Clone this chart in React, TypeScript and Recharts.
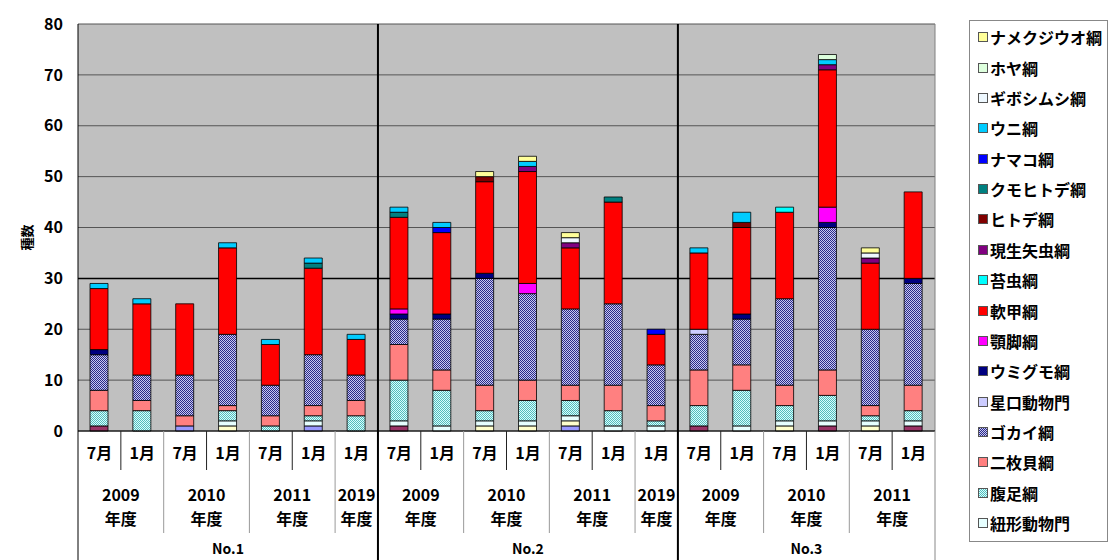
import { BarChart, Bar, XAxis, YAxis, CartesianGrid, ReferenceLine } from 'recharts';

// categories: one entry per bar
const barSite = [
  'No.1', 'No.1', 'No.1', 'No.1', 'No.1', 'No.1', 'No.1',
  'No.2', 'No.2', 'No.2', 'No.2', 'No.2', 'No.2', 'No.2',
  'No.3', 'No.3', 'No.3', 'No.3', 'No.3', 'No.3',
];
const barYear = [
  '2009', '2009', '2010', '2010', '2011', '2011', '2019',
  '2009', '2009', '2010', '2010', '2011', '2011', '2019',
  '2009', '2009', '2010', '2010', '2011', '2011',
];
const barMonth = [
  '7月', '1月', '7月', '1月', '7月', '1月', '1月',
  '7月', '1月', '7月', '1月', '7月', '1月', '1月',
  '7月', '1月', '7月', '1月', '7月', '1月',
];

const yTicks = [0, 10, 20, 30, 40, 50, 60, 70, 80];

// series values, bottom of the stack first
// (the first three are drawn in the bars but not listed in the legend)
const unlistedA = [0, 0, 1, 0, 0, 1, 0, 0, 0, 0, 0, 1, 0, 0, 0, 0, 0, 0, 0, 0];
const unlistedB = [1, 0, 0, 0, 0, 0, 0, 1, 0, 0, 0, 0, 0, 0, 1, 0, 0, 1, 0, 1];
const unlistedC = [0, 0, 0, 1, 0, 0, 0, 0, 0, 1, 1, 1, 0, 0, 0, 0, 1, 0, 1, 0];
const nemertea = [0, 0, 0, 1, 0, 1, 0, 1, 1, 1, 1, 1, 1, 1, 0, 1, 1, 1, 1, 1];
const gastropoda = [3, 4, 0, 2, 1, 1, 3, 8, 7, 2, 4, 3, 3, 1, 4, 7, 3, 5, 1, 2];
const bivalvia = [4, 2, 2, 1, 2, 2, 3, 7, 4, 5, 4, 3, 5, 3, 7, 5, 4, 5, 2, 5];
const polychaeta = [7, 5, 8, 14, 6, 10, 5, 5, 10, 21, 17, 15, 16, 8, 7, 9, 17, 28, 15, 20];
const sipuncula = [0, 0, 0, 0, 0, 0, 0, 0, 0, 0, 0, 0, 0, 0, 1, 0, 0, 0, 0, 0];
const pycnogonida = [1, 0, 0, 0, 0, 0, 0, 1, 1, 1, 0, 0, 0, 0, 0, 1, 0, 1, 0, 1];
const maxillopoda = [0, 0, 0, 0, 0, 0, 0, 1, 0, 0, 2, 0, 0, 0, 0, 0, 0, 3, 0, 0];
const malacostraca = [12, 14, 14, 17, 8, 17, 7, 18, 16, 18, 22, 12, 20, 6, 15, 17, 17, 27, 13, 17];
const bryozoa = [0, 0, 0, 0, 0, 0, 0, 0, 0, 0, 0, 0, 0, 0, 0, 0, 1, 0, 0, 0];
const sagittoidea = [0, 0, 0, 0, 0, 0, 0, 0, 0, 0, 1, 1, 0, 0, 0, 0, 0, 1, 1, 0];
const asteroidea = [0, 0, 0, 0, 0, 0, 0, 0, 0, 1, 0, 0, 0, 0, 0, 1, 0, 0, 0, 0];
const ophiuroidea = [0, 0, 0, 0, 0, 1, 0, 1, 0, 0, 0, 0, 1, 0, 0, 0, 0, 0, 0, 0];
const holothuroidea = [0, 0, 0, 0, 0, 0, 0, 0, 1, 0, 0, 0, 0, 1, 0, 0, 0, 0, 0, 0];
const echinoidea = [1, 1, 0, 1, 1, 1, 1, 1, 1, 0, 1, 0, 0, 0, 1, 2, 0, 1, 0, 0];
const enteropneusta = [0, 0, 0, 0, 0, 0, 0, 0, 0, 0, 0, 1, 0, 0, 0, 0, 0, 0, 1, 0];
const ascidiacea = [0, 0, 0, 0, 0, 0, 0, 0, 0, 0, 0, 0, 0, 0, 0, 0, 0, 1, 0, 0];
const amphioxus = [0, 0, 0, 0, 0, 0, 0, 0, 0, 1, 1, 1, 0, 0, 0, 0, 0, 0, 1, 0];

const series = [
  { key: 'a', name: '', values: unlistedA, fill: '#9999FF', legend: false },
  { key: 'b', name: '', values: unlistedB, fill: '#993366', legend: false },
  { key: 'c', name: '', values: unlistedC, fill: '#FFFFCC', legend: false },
  { key: 'nem', name: '紐形動物門', values: nemertea, fill: '#E6FFFF', legend: true },
  { key: 'gas', name: '腹足綱', values: gastropoda, fill: 'url(#patGas)', legend: true },
  { key: 'biv', name: '二枚貝綱', values: bivalvia, fill: '#FF8080', legend: true },
  { key: 'pol', name: 'ゴカイ綱', values: polychaeta, fill: 'url(#patPol)', legend: true },
  { key: 'sip', name: '星口動物門', values: sipuncula, fill: '#CCCCFF', legend: true },
  { key: 'pyc', name: 'ウミグモ綱', values: pycnogonida, fill: '#000080', legend: true },
  { key: 'max', name: '顎脚綱', values: maxillopoda, fill: '#FF00FF', legend: true },
  { key: 'mal', name: '軟甲綱', values: malacostraca, fill: '#FF0000', legend: true },
  { key: 'bry', name: '苔虫綱', values: bryozoa, fill: '#00FFFF', legend: true },
  { key: 'sag', name: '現生矢虫綱', values: sagittoidea, fill: '#800080', legend: true },
  { key: 'ast', name: 'ヒトデ綱', values: asteroidea, fill: '#800000', legend: true },
  { key: 'oph', name: 'クモヒトデ綱', values: ophiuroidea, fill: '#008080', legend: true },
  { key: 'hol', name: 'ナマコ綱', values: holothuroidea, fill: '#0000FF', legend: true },
  { key: 'ech', name: 'ウニ綱', values: echinoidea, fill: '#00CCFF', legend: true },
  { key: 'ent', name: 'ギボシムシ綱', values: enteropneusta, fill: '#EEF8FF', legend: true },
  { key: 'asc', name: 'ホヤ綱', values: ascidiacea, fill: '#DDFFDD', legend: true },
  { key: 'amp', name: 'ナメクジウオ綱', values: amphioxus, fill: '#FFFF99', legend: true },
];

const catKeys = barSite.map((s, i) => `${s}-${barYear[i]}-${barMonth[i]}`);

const data = catKeys.map((cat, i) => {
  const row: Record<string, string | number> = { cat };
  for (const s of series) row[s.key] = s.values[i];
  return row;
});

const W = 1110;
const H = 560;
const MARGIN = { top: 24, right: 175, bottom: 0, left: 0 };
const Y_AXIS_W = 78;
const X_AXIS_H = 129;
const PLOT_H = H - MARGIN.top - X_AXIS_H;
const FONT = '"Noto Sans CJK JP", "Noto Sans", sans-serif';
const Y30 = MARGIN.top + PLOT_H * (1 - 30 / 80);

function countRun(i: number, same: (j: number) => boolean) {
  let k = 0;
  while (i + k < catKeys.length && same(i + k)) k++;
  return k;
}

function CategoryTick(props: any) {
  const { x, y, payload } = props;
  const i: number = payload.index ?? props.index;
  const half: number = payload.offset || (W - MARGIN.right - Y_AXIS_W) / catKeys.length / 2;
  const n = catKeys.length;
  const parts: any[] = [];

  parts.push(
    <text key="m" x={x} y={y + 21} textAnchor="middle" dominantBaseline="central" fontSize={16} fontWeight={700} fill="#000">
      {barMonth[i]}
    </text>,
  );

  if (i < n - 1 && barSite[i + 1] === barSite[i]) {
    if (barYear[i + 1] === barYear[i]) {
      parts.push(<line key="r" x1={x + half} x2={x + half} y1={y} y2={y + 39} stroke="#222" />);
    } else {
      parts.push(<line key="r" x1={x + half} x2={x + half} y1={y} y2={y + 102} stroke="#999" />);
    }
  }
  if (i === n - 1) {
    parts.push(<line key="e" x1={x + half} x2={x + half} y1={y} y2={H} stroke="#888" />);
  }

  const firstSite = i === 0 || barSite[i - 1] !== barSite[i];
  if (firstSite) {
    parts.push(
      <line key="l" x1={x - half} x2={x - half} y1={y} y2={H} stroke="#000" strokeWidth={i === 0 ? 1 : 2} />,
    );
    const m = countRun(i, (j) => barSite[j] === barSite[i]);
    parts.push(
      <text key="s" x={x + (m - 1) * half} y={y + 117} textAnchor="middle" dominantBaseline="central" fontSize={14} fontWeight={700} fill="#000">
        {barSite[i]}
      </text>,
    );
  }

  if (firstSite || barYear[i - 1] !== barYear[i]) {
    const k = countRun(i, (j) => barSite[j] === barSite[i] && barYear[j] === barYear[i]);
    const cx = x + (k - 1) * half;
    parts.push(
      <text key="y" x={cx} y={y + 63} textAnchor="middle" dominantBaseline="central" fontSize={16} fontWeight={700} fill="#000">
        {barYear[i]}
      </text>,
      <text key="nd" x={cx} y={y + 87} textAnchor="middle" dominantBaseline="central" fontSize={16} fontWeight={700} fill="#000">
        年度
      </text>,
    );
  }

  return <g>{parts}</g>;
}

function GridLine(props: any) {
  const { x1, x2, y1, y2 } = props;
  const strong = Math.abs(y1 - Y30) < 1.5;
  return <line x1={x1} x2={x2} y1={y1} y2={y2} stroke={strong ? '#000' : '#555'} strokeWidth={strong ? 1.5 : 1} />;
}

function Patterns() {
  return (
    <defs>
      <pattern id="patGas" width="2" height="2" patternUnits="userSpaceOnUse">
        <rect width="2" height="2" fill="#D6FFFF" />
        <rect width="1" height="1" fill="#55BBBB" />
        <rect x="1" y="1" width="1" height="1" fill="#55BBBB" />
      </pattern>
      <pattern id="patPol" width="2" height="2" patternUnits="userSpaceOnUse">
        <rect width="2" height="2" fill="#C8C8F0" />
        <rect width="1" height="1" fill="#2A2A88" />
        <rect x="1" y="1" width="1" height="1" fill="#2A2A88" />
      </pattern>
    </defs>
  );
}

export default function App() {
  const legendItems = series.filter((s) => s.legend).reverse();

  return (
    <div style={{ position: 'absolute', left: 0, top: 0, width: W, height: H, background: '#fff', fontFamily: FONT }}>
      <BarChart width={W} height={H} data={data} margin={MARGIN}>
        <Patterns />
        <CartesianGrid vertical={false} fill="#C0C0C0" horizontal={(p: any) => <GridLine {...p} />} />
        <XAxis
          dataKey="cat"
          height={X_AXIS_H}
          interval={0}
          tickLine={false}
          tickSize={0}
          tickMargin={0}
          axisLine={{ stroke: '#000' }}
          tick={(p: any) => <CategoryTick {...p} />}
        />
        <YAxis
          width={Y_AXIS_W}
          domain={[0, 80]}
          ticks={yTicks}
          interval={0}
          tickLine={false}
          tickSize={0}
          tickMargin={15}
          axisLine={{ stroke: '#000' }}
          tick={{ fill: '#000', fontSize: 16, fontWeight: 700 }}
          label={{
            content: (p: any) => {
              const vb = p.viewBox;
              const cx = vb.x + 26;
              const cy = vb.y + vb.height / 2 + 10;
              return (
                <text x={cx} y={cy} transform={`rotate(-90, ${cx}, ${cy})`} textAnchor="middle" dominantBaseline="central" fontSize={13} fontWeight={700} fill="#000">
                  種数
                </text>
              );
            },
          }}
        />
        <ReferenceLine x={catKeys[catKeys.length - 1]} position="end" stroke="#808080" />
        {series.map((s) => (
          <Bar
            key={s.key}
            dataKey={s.key}
            name={s.name}
            stackId="all"
            fill={s.fill}
            stroke="#000"
            strokeWidth={0.8}
            barSize={18}
            isAnimationActive={false}
          />
        ))}
        <ReferenceLine x={catKeys[7]} position="start" stroke="#000" strokeWidth={2} />
        <ReferenceLine x={catKeys[14]} position="start" stroke="#000" strokeWidth={2} />
      </BarChart>

      <div
        style={{
          position: 'absolute',
          left: 969,
          top: 20,
          width: 139,
          height: 522,
          boxSizing: 'border-box',
          border: '1px solid #888',
          background: '#fff',
          paddingTop: 1,
        }}
      >
        {legendItems.map((s) => (
          <div key={s.key} style={{ height: 30.375, display: 'flex', alignItems: 'center', fontSize: 16, fontWeight: 700, color: '#000', whiteSpace: 'nowrap' }}>
            <svg width={10} height={10} style={{ marginLeft: 8, marginRight: 2, flex: 'none' }}>
              <rect x={0.5} y={0.5} width={9} height={9} fill={s.fill} stroke="#555" strokeWidth={1} />
            </svg>
            <span>{s.name}</span>
          </div>
        ))}
      </div>
    </div>
  );
}
